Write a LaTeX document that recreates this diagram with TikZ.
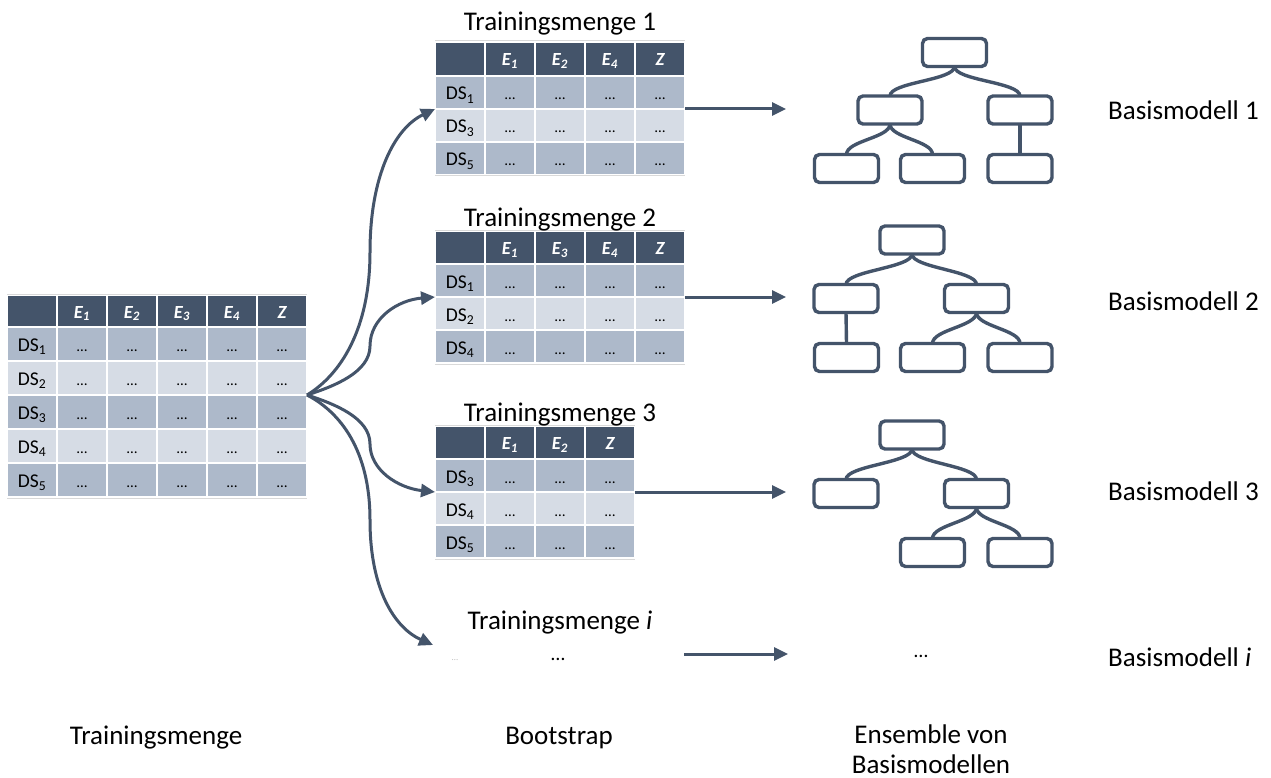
\documentclass[tikz,border=0pt]{standalone}
\usepackage{fontspec}
\setmainfont{Carlito}
\usetikzlibrary{arrows.meta}
\definecolor{dkb}{HTML}{44546A}
\definecolor{rowa}{HTML}{ADB9CA}
\definecolor{rowb}{HTML}{D6DCE5}
\definecolor{rulegray}{HTML}{D9D9D9}
\tikzset{
  cellbase/.style={draw=white, line width=2pt, outer sep=0pt, inner sep=0pt,
     minimum width=50pt, anchor=north west, text height=15pt, text depth=0pt},
  hdrcell/.style={cellbase, fill=dkb, text=white, font=\fontsize{18.5}{20}\selectfont\bfseries\itshape, text height=14pt},
  dsfont/.style={font=\fontsize{19.5}{22}\selectfont},
  dotfont/.style={font=\fontsize{15}{18}\selectfont},
  flow/.style={draw=dkb, line width=3pt, -{Triangle[length=14pt,width=13pt]}},
  treebox/.style={draw=dkb, line width=3.4pt, rounded corners=5pt, minimum width=64pt, minimum height=28pt, inner sep=0pt, outer sep=0pt},
  treeedge/.style={draw=dkb, line width=3.4pt},
  lbl/.style={font=\fontsize{27}{32}\selectfont, inner sep=0pt, anchor=base},
  dotslbl/.style={font=\fontsize{20}{24}\selectfont, inner sep=0pt, anchor=base},
  faintlbl/.style={font=\fontsize{9}{10}\selectfont, inner sep=0pt, anchor=base, text=black!25},
  tablerule/.style={draw=rulegray, line width=1pt},
}
% #1 name, #2 x, #3 top, #4 header height, #5 row height, #6 ncols, #7 header labels, #8 rows (label/colour), #9 nrows
\newcommand\mktable[9]{%
  \node[hdrcell, minimum height=#4pt] (#1-0-0) at (#2,#3) {};
  \foreach \hl [count=\col] in {#7} {
    \node[hdrcell, minimum height=#4pt] (#1-0-\col) at (#2+50*\col,#3) {\hl};
  }
  \foreach \rl/\rc [count=\ri] in {#8} {
    \node[cellbase, fill=\rc, dsfont, minimum height=#5pt] (#1-\ri-0) at (#2,#3+#4+#5*\ri-#5) {DS\textsubscript{\rl}};
    \foreach \col in {1,...,#6} {
      \node[cellbase, fill=\rc, dotfont, minimum height=#5pt] (#1-\ri-\col) at (#2+50*\col,#3+#4+#5*\ri-#5) {…};
    }
  }
  \draw[tablerule] ([yshift=1pt]#1-0-0.north west) -- ([yshift=1pt]#1-0-#6.north east);
  \draw[tablerule] ([yshift=-1pt]#1-#9-0.south west) -- ([yshift=-1pt]#1-#9-#6.south east);
}
\begin{document}
\begin{tikzpicture}[x=1pt,y=-1pt]
\fill[white] (0,0) rectangle (1271,778);
\useasboundingbox (0,0) rectangle (1271,778);

% tables
\mktable{m}{7}{295}{32}{34}{5}{E\textsubscript{1},E\textsubscript{2},E\textsubscript{3},E\textsubscript{4},Z}{1/rowa,2/rowb,3/rowa,4/rowb,5/rowa}{5}
\mktable{t1}{435}{42}{34}{33}{4}{E\textsubscript{1},E\textsubscript{2},E\textsubscript{4},Z}{1/rowa,3/rowb,5/rowa}{3}
\mktable{t2}{435}{231}{33}{33}{4}{E\textsubscript{1},E\textsubscript{3},E\textsubscript{4},Z}{1/rowa,2/rowb,4/rowa}{3}
\mktable{t3}{435}{426}{33}{33}{3}{E\textsubscript{1},E\textsubscript{2},Z}{3/rowa,4/rowb,5/rowa}{3}

% titles
\node[lbl] (tt1) at (560,31) {Trainingsmenge 1};
\node[lbl] (tt2) at (560,226) {Trainingsmenge 2};
\node[lbl] (tt3) at (560,421) {Trainingsmenge 3};
\node[lbl] (tti) at (560,629) {Trainingsmenge \textit{i}};
\node[dotslbl] (tdi) at (558,660) {…};
\node[faintlbl] (tfi) at (455,660) {…};

% bootstrap arrows
\coordinate (c4e) at (433,645);
\draw[flow] (m-2-5.south east) .. controls (340,375) and (370,330) .. (370,252)
   .. controls (370,175) and (395,128) .. (t1-1-0.south west);
\draw[flow] (m-2-5.south east) .. controls (335,386) and (370,372) .. (370,346)
   .. controls (370,318) and (398,300) .. (t2-1-0.south west);
\draw[flow] (m-2-5.south east) .. controls (335,404) and (370,418) .. (370,444)
   .. controls (370,470) and (398,488) .. (t3-1-0.south west);
\draw[flow] (m-2-5.south east) .. controls (340,412) and (370,450) .. (370,520)
   .. controls (370,590) and (395,628) .. (c4e);

% arrows to models
\coordinate (r1e) at (786,109);
\coordinate (r2e) at (786,297);
\coordinate (r3e) at (786,492);
\coordinate (ris) at (684,654);
\coordinate (rie) at (788,654);
\draw[flow] (t1-1-4.south east) -- (r1e);
\draw[flow] (t2-1-4.south east) -- (r2e);
\draw[flow] (t3-1-3.south east) -- (r3e);
\draw[flow] (ris) -- (rie);

% tree 1
\node[treebox] (a0) at (954.5,52.5) {};
\node[treebox] (a1) at (890,110) {};
\node[treebox] (a2) at (1020,110) {};
\node[treebox] (a3) at (846.5,168.5) {};
\node[treebox] (a4) at (932.5,168.5) {};
\node[treebox] (a5) at (1020,168.5) {};
\draw[treeedge] (a0.south) .. controls +(0,14) and +(0,-14) .. (a1.north);
\draw[treeedge] (a0.south) .. controls +(0,14) and +(0,-14) .. (a2.north);
\draw[treeedge] (a1.south) .. controls +(0,14) and +(0,-14) .. (a3.north);
\draw[treeedge] (a1.south) .. controls +(0,14) and +(0,-14) .. (a4.north);
\draw[treeedge] (a2.south) -- (a5.north);

% tree 2
\node[treebox] (b0) at (912,240) {};
\node[treebox] (b1) at (846,298.5) {};
\node[treebox] (b2) at (976.5,298.5) {};
\node[treebox] (b3) at (846.5,357.5) {};
\node[treebox] (b4) at (932.5,357.5) {};
\node[treebox] (b5) at (1020,357.5) {};
\draw[treeedge] (b0.south) .. controls +(0,14) and +(0,-14) .. (b1.north);
\draw[treeedge] (b0.south) .. controls +(0,14) and +(0,-14) .. (b2.north);
\draw[treeedge] (b1.south) -- (b3.north);
\draw[treeedge] (b2.south) .. controls +(0,14) and +(0,-14) .. (b4.north);
\draw[treeedge] (b2.south) .. controls +(0,14) and +(0,-14) .. (b5.north);

% tree 3
\node[treebox] (c0) at (912,435) {};
\node[treebox] (c1) at (846,493.5) {};
\node[treebox] (c2) at (976.5,493.5) {};
\node[treebox] (c4) at (932.5,552.5) {};
\node[treebox] (c5) at (1020,552.5) {};
\draw[treeedge] (c0.south) .. controls +(0,14) and +(0,-14) .. (c1.north);
\draw[treeedge] (c0.south) .. controls +(0,14) and +(0,-14) .. (c2.north);
\draw[treeedge] (c2.south) .. controls +(0,14) and +(0,-14) .. (c4.north);
\draw[treeedge] (c2.south) .. controls +(0,14) and +(0,-14) .. (c5.north);

\node[dotslbl] (edi) at (921,657) {…};

% model labels
\node[lbl, anchor=base west] (bm1) at (1108,120) {Basismodell 1};
\node[lbl, anchor=base west] (bm2) at (1108,310) {Basismodell 2};
\node[lbl, anchor=base west] (bm3) at (1108,500) {Basismodell 3};
\node[lbl, anchor=base west] (bmi) at (1108,666) {Basismodell \textit{i}};

% bottom labels
\node[lbl] (bl1) at (156,744) {Trainingsmenge};
\node[lbl] (bl2) at (559,744) {Bootstrap};
\node[lbl] (bl3) at (931,743) {Ensemble von};
\node[lbl] (bl4) at (931,773) {Basismodellen};
\end{tikzpicture}
\end{document}
